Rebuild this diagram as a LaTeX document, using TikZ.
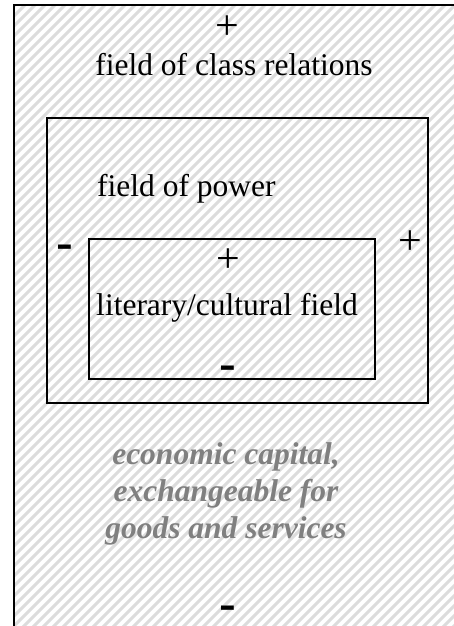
\documentclass[tikz,border=0pt]{standalone}
\usepackage{fontspec}
\setmainfont{Liberation Serif}
\newfontfamily\dashfont{Liberation Sans}
\usepackage{graphicx}
\definecolor{hatchgray}{RGB}{220,220,220}
\definecolor{captxt}{RGB}{128,128,128}
\tikzset{
  fieldbox/.style={draw=black, line width=2.6pt, inner sep=0pt, rectangle},
  lbl/.style={font=\fontsize{31.5}{37}\selectfont, inner sep=0pt, text=black},
  plussign/.style={font=\fontsize{42}{42}\selectfont, inner sep=0pt, text=black},
  minus/.style={font=\dashfont\bfseries\fontsize{36}{36}\selectfont, inner sep=0pt},
  caption/.style={font=\bfseries\itshape\fontsize{31.5}{37}\selectfont, text=captxt, align=center, inner sep=0pt},
  hatch/.style={draw=hatchgray, line width=3pt},
}
\begin{document}
\begin{tikzpicture}[x=1pt,y=-1pt]
\clip (0,0) rectangle (454,626);
\fill[white] (0,0) rectangle (454,626);
\begin{scope}
  \clip (14,5) rectangle (480,660);
  \foreach \i in {-680,-670,...,470} \draw[hatch] (\i,660) -- ++(700,-700);
\end{scope}
% boxes
\node[fieldbox, minimum width=456pt, minimum height=645pt] (outer) at (242,327.5) {};
\node[fieldbox, minimum width=381pt, minimum height=285pt] (power) at (237.5,260.5) {};
\node[fieldbox, minimum width=286pt, minimum height=140pt] (lit) at (232,309) {};
% labels
\node[plussign, anchor=base] (plusA) at (227,40) {+};
\node[lbl, anchor=base] (classrel) at (234,75) {field of class relations};
\node[lbl, anchor=base west] (powerlbl) at (97,196) {field of power};
\node[minus, anchor=base] (minusB) at (64.5,256) {\scalebox{1.4}[1]{-}};
\node[plussign, anchor=base] (plusB) at (410.5,254) {+};
\node[plussign, anchor=base] (plusC) at (228,272) {+};
\node[lbl, anchor=base] (litlbl) at (227,315) {literary/cultural field};
\node[minus, anchor=base] (minusC) at (228,377.5) {\scalebox{1.4}[1]{-}};
\node[caption, anchor=base] (econ) at (226,538) {economic capital,\\exchangeable for\\goods and services};
\node[minus, anchor=base] (minusA) at (228,617) {\scalebox{1.4}[1]{-}};
\end{tikzpicture}
\end{document}
